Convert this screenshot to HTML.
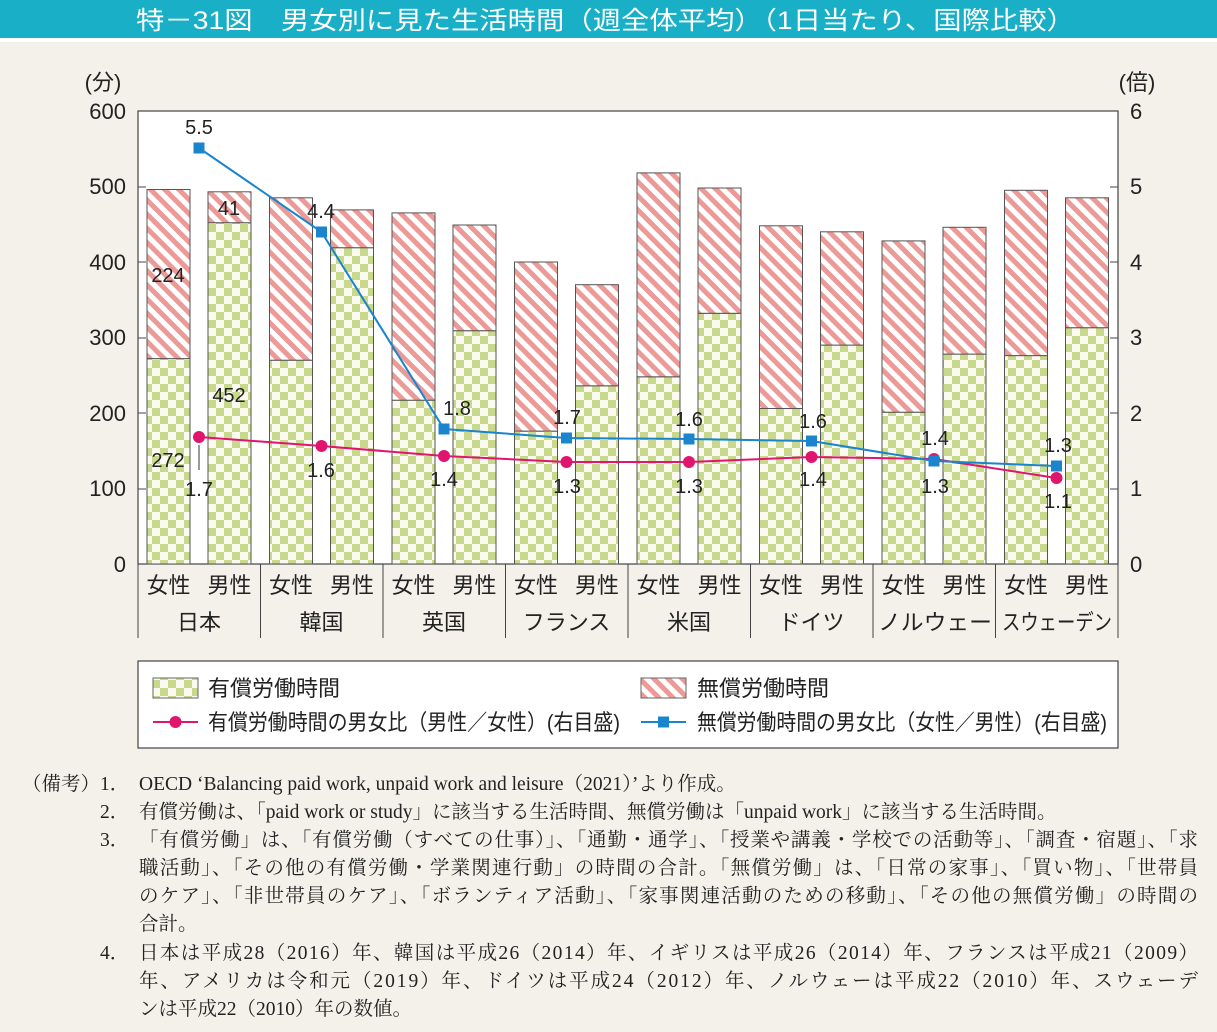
<!DOCTYPE html>
<html><head><meta charset="utf-8"><style>
body{margin:0;background:#f4f1ea;}
svg{display:block}
.t{font-family:"Liberation Sans","Noto Sans CJK JP",sans-serif;fill:#222}
.s{font-family:"Liberation Serif","Noto Serif CJK SC",serif;fill:#222;font-size:19.5px}
</style></head><body>
<svg width="1217" height="1032" xmlns="http://www.w3.org/2000/svg">
<defs>
<pattern id="ck" width="16" height="16" patternUnits="userSpaceOnUse">
<rect width="16" height="16" fill="#fafaf0"/><rect width="8" height="8" fill="#c8d98c"/><rect x="8" y="8" width="8" height="8" fill="#c8d98c"/>
</pattern>
<pattern id="st" width="10" height="10" patternUnits="userSpaceOnUse" patternTransform="rotate(-45)">
<rect width="10" height="10" fill="#fff"/><rect width="5" height="10" fill="#eb9a98"/>
</pattern>
</defs>
<rect width="1217" height="38" fill="#18afc7"/>
<rect y="38" width="1217" height="4" fill="#fff"/>
<text x="136" y="29" textLength="939" lengthAdjust="spacingAndGlyphs" class="t" style="fill:#fff;font-size:25px">特－31図　男女別に見た生活時間（週全体平均）（1日当たり、国際比較）</text>
<rect x="138" y="111" width="980" height="453" fill="#fff" stroke="#444" stroke-width="1.2"/>
<g class="t" style="font-size:22px">
<text x="103" y="90" text-anchor="middle">(分)</text>
<text x="1137" y="90" text-anchor="middle">(倍)</text>
<g text-anchor="end">
<text x="126" y="119">600</text><text x="126" y="194">500</text><text x="126" y="270">400</text><text x="126" y="345">300</text><text x="126" y="421">200</text><text x="126" y="496">100</text><text x="126" y="572">0</text>
</g>
<g>
<text x="1130" y="119">6</text><text x="1130" y="194">5</text><text x="1130" y="270">4</text><text x="1130" y="345">3</text><text x="1130" y="421">2</text><text x="1130" y="496">1</text><text x="1130" y="572">0</text>
</g>
</g>
<g stroke="#444" stroke-width="1">
<line x1="138" y1="187" x2="146" y2="187"/><line x1="138" y1="262" x2="146" y2="262"/><line x1="138" y1="338" x2="146" y2="338"/><line x1="138" y1="413" x2="146" y2="413"/><line x1="138" y1="489" x2="146" y2="489"/>
<line x1="1110" y1="187" x2="1118" y2="187"/><line x1="1110" y1="262" x2="1118" y2="262"/><line x1="1110" y1="338" x2="1118" y2="338"/><line x1="1110" y1="413" x2="1118" y2="413"/><line x1="1110" y1="489" x2="1118" y2="489"/>
</g>
<g stroke="#555" stroke-width="1">
<rect x="147" y="358.6" width="43" height="205.4" fill="url(#ck)"/><rect x="147" y="189.5" width="43" height="169.1" fill="url(#st)"/>
<rect x="208" y="222.7" width="43" height="341.3" fill="url(#ck)"/><rect x="208" y="191.8" width="43" height="30.9" fill="url(#st)"/>
<rect x="269.5" y="360.2" width="43" height="203.8" fill="url(#ck)"/><rect x="269.5" y="197.8" width="43" height="162.4" fill="url(#st)"/>
<rect x="330.5" y="247.7" width="43" height="316.3" fill="url(#ck)"/><rect x="330.5" y="209.9" width="43" height="37.8" fill="url(#st)"/>
<rect x="392" y="400.2" width="43" height="163.8" fill="url(#ck)"/><rect x="392" y="212.9" width="43" height="187.3" fill="url(#st)"/>
<rect x="453" y="330.7" width="43" height="233.3" fill="url(#ck)"/><rect x="453" y="225" width="43" height="105.7" fill="url(#st)"/>
<rect x="514.5" y="431.1" width="43" height="132.9" fill="url(#ck)"/><rect x="514.5" y="262" width="43" height="169.1" fill="url(#st)"/>
<rect x="575.5" y="385.8" width="43" height="178.2" fill="url(#ck)"/><rect x="575.5" y="284.7" width="43" height="101.1" fill="url(#st)"/>
<rect x="637" y="376.8" width="43" height="187.2" fill="url(#ck)"/><rect x="637" y="172.9" width="43" height="203.9" fill="url(#st)"/>
<rect x="698" y="313.3" width="43" height="250.7" fill="url(#ck)"/><rect x="698" y="188" width="43" height="125.3" fill="url(#st)"/>
<rect x="759.5" y="408.5" width="43" height="155.5" fill="url(#ck)"/><rect x="759.5" y="225.8" width="43" height="182.7" fill="url(#st)"/>
<rect x="820.5" y="345.1" width="43" height="218.9" fill="url(#ck)"/><rect x="820.5" y="231.8" width="43" height="113.3" fill="url(#st)"/>
<rect x="882" y="412.2" width="43" height="151.8" fill="url(#ck)"/><rect x="882" y="240.9" width="43" height="171.3" fill="url(#st)"/>
<rect x="943" y="354.1" width="43" height="209.9" fill="url(#ck)"/><rect x="943" y="227.3" width="43" height="126.8" fill="url(#st)"/>
<rect x="1004.5" y="355.6" width="43" height="208.4" fill="url(#ck)"/><rect x="1004.5" y="190.3" width="43" height="165.3" fill="url(#st)"/>
<rect x="1065.5" y="327.7" width="43" height="236.3" fill="url(#ck)"/><rect x="1065.5" y="197.8" width="43" height="129.9" fill="url(#st)"/>
</g>
<g class="t" style="font-size:20px" text-anchor="middle">
<text x="168" y="282">224</text><text x="229" y="215">41</text><text x="229" y="402">452</text><text x="168" y="467">272</text>
</g>
<line x1="199" y1="445" x2="199" y2="470" stroke="#333" stroke-width="1"/>
<polyline points="199,437 321.5,446 444,456 566.5,462 689,462 811.5,457 934,459 1056.5,478" fill="none" stroke="#e0166e" stroke-width="2"/>
<g fill="#e0166e"><circle cx="199" cy="437" r="6"/><circle cx="321.5" cy="446" r="6"/><circle cx="444" cy="456" r="6"/><circle cx="566.5" cy="462" r="6"/><circle cx="689" cy="462" r="6"/><circle cx="811.5" cy="457" r="6"/><circle cx="934" cy="459" r="6"/><circle cx="1056.5" cy="478" r="6"/></g>
<polyline points="199,148 321.5,232 444,429 566.5,438 689,439 811.5,441 934,461 1056.5,466" fill="none" stroke="#1a85cc" stroke-width="2"/>
<g fill="#1a85cc"><rect x="193.5" y="142.5" width="11" height="11"/><rect x="316" y="226.5" width="11" height="11"/><rect x="438.5" y="423.5" width="11" height="11"/><rect x="561" y="432.5" width="11" height="11"/><rect x="683.5" y="433.5" width="11" height="11"/><rect x="806" y="435.5" width="11" height="11"/><rect x="928.5" y="455.5" width="11" height="11"/><rect x="1051" y="460.5" width="11" height="11"/></g>
<g class="t" style="font-size:20px" text-anchor="middle">
<text x="199" y="134">5.5</text><text x="321" y="218">4.4</text><text x="457" y="415">1.8</text><text x="567" y="424">1.7</text><text x="689" y="426">1.6</text><text x="813" y="428">1.6</text><text x="935" y="445">1.4</text><text x="1058" y="452">1.3</text>
<text x="199" y="496">1.7</text><text x="321" y="477">1.6</text><text x="444" y="486">1.4</text><text x="567" y="493">1.3</text><text x="689" y="493">1.3</text><text x="813" y="486">1.4</text><text x="935" y="493">1.3</text><text x="1058" y="508">1.1</text>
</g>
<g stroke="#444" stroke-width="1">
<line x1="138" y1="564" x2="138" y2="638"/><line x1="260.5" y1="564" x2="260.5" y2="638"/><line x1="383" y1="564" x2="383" y2="638"/><line x1="505.5" y1="564" x2="505.5" y2="638"/><line x1="628" y1="564" x2="628" y2="638"/><line x1="750.5" y1="564" x2="750.5" y2="638"/><line x1="873" y1="564" x2="873" y2="638"/><line x1="995.5" y1="564" x2="995.5" y2="638"/><line x1="1118" y1="564" x2="1118" y2="638"/>
</g>
<g class="t" style="font-size:22px" text-anchor="middle">
<text x="168.5" y="593">女性</text><text x="229.5" y="593">男性</text>
<text x="291" y="593">女性</text><text x="352" y="593">男性</text>
<text x="413.5" y="593">女性</text><text x="474.5" y="593">男性</text>
<text x="536" y="593">女性</text><text x="597" y="593">男性</text>
<text x="658.5" y="593">女性</text><text x="719.5" y="593">男性</text>
<text x="781" y="593">女性</text><text x="842" y="593">男性</text>
<text x="903.5" y="593">女性</text><text x="964.5" y="593">男性</text>
<text x="1026" y="593">女性</text><text x="1087" y="593">男性</text>
<text x="199" y="630">日本</text><text x="321.5" y="630">韓国</text><text x="444" y="630">英国</text><text x="566.5" y="630">フランス</text><text x="689" y="630">米国</text><text x="811.5" y="630">ドイツ</text>
</g>
<g class="t" style="font-size:22px">
<text x="878" y="630" textLength="114" lengthAdjust="spacingAndGlyphs">ノルウェー</text>
<text x="1002" y="630" textLength="110" lengthAdjust="spacingAndGlyphs">スウェーデン</text>
</g>
<rect x="138" y="661" width="980" height="87" fill="#fff" stroke="#444" stroke-width="1.2"/>
<rect x="153" y="678" width="45" height="20" fill="url(#ck)" stroke="#666"/>
<rect x="641" y="678" width="45" height="20" fill="url(#st)" stroke="#666"/>
<line x1="153" y1="722" x2="198" y2="722" stroke="#e0166e" stroke-width="2"/><circle cx="175.5" cy="722" r="6" fill="#e0166e"/>
<line x1="641" y1="722" x2="686" y2="722" stroke="#1a85cc" stroke-width="2"/><rect x="658" y="716.5" width="11" height="11" fill="#1a85cc"/>
<g class="t" style="font-size:22px">
<text x="208" y="696">有償労働時間</text><text x="697" y="696">無償労働時間</text>
<text x="208" y="730" textLength="412" lengthAdjust="spacingAndGlyphs">有償労働時間の男女比（男性／女性）(右目盛)</text><text x="697" y="730" textLength="410" lengthAdjust="spacingAndGlyphs">無償労働時間の男女比（女性／男性）(右目盛)</text>
</g>
<g class="s">
<text x="22" y="790">（備考）</text>
<text x="100" y="790">1．</text><text x="139" y="790">OECD ‘Balancing paid work, unpaid work and leisure（2021）’より作成。</text>
<text x="100" y="818">2．</text><text x="139" y="818">有償労働は、「paid work or study」に該当する生活時間、無償労働は「unpaid work」に該当する生活時間。</text>
<text x="100" y="846">3．</text><text x="139" y="846" textLength="1059">「有償労働」は、「有償労働（すべての仕事）」、「通勤・通学」、「授業や講義・学校での活動等」、「調査・宿題」、「求</text>
<text x="139" y="874" textLength="1059">職活動」、「その他の有償労働・学業関連行動」の時間の合計。「無償労働」は、「日常の家事」、「買い物」、「世帯員</text>
<text x="139" y="902" textLength="1059">のケア」、「非世帯員のケア」、「ボランティア活動」、「家事関連活動のための移動」、「その他の無償労働」の時間の</text>
<text x="139" y="930">合計。</text>
<text x="100" y="959">4．</text><text x="139" y="959" textLength="1059">日本は平成28（2016）年、韓国は平成26（2014）年、イギリスは平成26（2014）年、フランスは平成21（2009）</text>
<text x="139" y="987" textLength="1059">年、アメリカは令和元（2019）年、ドイツは平成24（2012）年、ノルウェーは平成22（2010）年、スウェーデ</text>
<text x="139" y="1015">ンは平成22（2010）年の数値。</text>
</g>
</svg>
</body></html>
